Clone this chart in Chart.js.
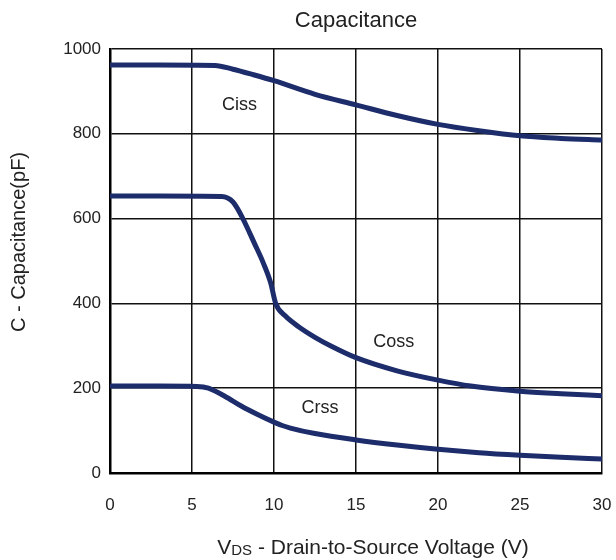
<!DOCTYPE html>
<html>
<head>
<meta charset="utf-8">
<script src="https://cdn.jsdelivr.net/npm/chart.js@4"></script>
<style>
  html, body { margin: 0; padding: 0; background: #fff; }
  #wrap { width: 616px; height: 560px; }
</style>
</head>
<body>
<div id="wrap"><canvas id="myChart" width="616" height="560"></canvas></div>
<script>
// values (V, pF)
const cissV = [0, 3, 6.4, 7.5, 8.75, 10, 12.5, 15, 17.5, 20, 22.5, 25, 27.5, 30];
const cissC = [962, 962, 961, 952, 939, 925, 893, 868, 843, 822, 807, 795, 789, 785];

const cossV = [0, 3, 6.8, 7.5, 8.1, 8.8, 9.35, 9.8, 10.1, 10.7, 11.5, 12.5, 13.5, 15, 17.5, 20, 22, 25, 27.5, 30];
const cossC = [653, 653, 652, 639, 600, 542, 495, 448, 400, 370, 345, 320, 299, 272, 241, 219, 205, 193, 187, 182];

const crssV = [0, 3, 5.3, 6, 7, 8, 9, 10, 10.5, 11, 12.5, 15, 17.5, 20, 22.5, 25, 27.5, 30];
const crssC = [205, 205, 204, 200, 181, 158, 138, 120, 112, 106, 93, 78, 66, 56, 48, 42, 37, 33];

const xTicks = [0, 5, 10, 15, 20, 25, 30];
const yTicks = [0, 200, 400, 600, 800, 1000];

// curve names and where they sit on the plot (V, pF)
const curveNames = ['Ciss', 'Coss', 'Crss'];
const nameAtV = [7.9, 17.3, 12.8];
const nameAtC = [868, 308, 153];

const FONT = '"Liberation Sans", Arial, Helvetica, sans-serif';
const NAVY = '#1d2c6b';

function pts(xs, ys) {
  return xs.map((x, i) => ({ x: x, y: ys[i] }));
}

function series(label, xs, ys) {
  return {
    label: label,
    data: pts(xs, ys),
    borderColor: NAVY,
    borderWidth: 5,
    pointRadius: 0,
    fill: false,
    cubicInterpolationMode: 'monotone',
    borderCapStyle: 'butt'
  };
}

// curve names, y title (sits a bit above centre in the original) and
// x title with the DS subscript
const textPlugin = {
  id: 'texts',
  afterDraw(chart) {
    const c = chart.ctx;
    const sx = chart.scales.x, sy = chart.scales.y;
    c.save();
    c.fillStyle = '#222';
    c.textAlign = 'center';
    c.textBaseline = 'middle';
    c.font = '18px ' + FONT;
    curveNames.forEach((n, i) => {
      c.fillText(n, sx.getPixelForValue(nameAtV[i]), sy.getPixelForValue(nameAtC[i]));
    });

    c.save();
    c.translate(19, 242);
    c.rotate(-Math.PI / 2);
    c.font = '20px ' + FONT;
    c.fillText('C - Capacitance(pF)', 0, 0);
    c.restore();

    // "VDS - Drain-to-Source Voltage (V)"
    const big = '21px ' + FONT, small = '15px ' + FONT;
    const rest = ' - Drain-to-Source Voltage (V)';
    c.font = big; const wV = c.measureText('V').width; const wR = c.measureText(rest).width;
    c.font = small; const wS = c.measureText('DS').width;
    let x = 373 - (wV + wS + wR) / 2;
    const y = 554;
    c.textAlign = 'left';
    c.textBaseline = 'alphabetic';
    c.font = big; c.fillText('V', x, y); x += wV;
    c.font = small; c.fillText('DS', x, y + 1); x += wS;
    c.font = big; c.fillText(rest, x, y);
    c.restore();
  }
};

const ctx = document.getElementById('myChart');

new Chart(ctx, {
  type: 'line',
  data: {
    datasets: [
      series('Ciss', cissV, cissC),
      series('Coss', cossV, cossC),
      series('Crss', crssV, crssC)
    ]
  },
  options: {
    responsive: false,
    animation: false,
    layout: { padding: { left: 0, right: 14, top: 0, bottom: 0 } },
    plugins: {
      legend: { display: false },
      tooltip: { enabled: false },
      title: {
        display: true,
        text: 'Capacitance',
        fullSize: false,
        color: '#222',
        font: { family: FONT, size: 22, weight: 'normal' },
        padding: { top: 8, bottom: 14.5 }
      }
    },
    scales: {
      x: {
        type: 'linear',
        min: 0,
        max: 30,
        afterBuildTicks: (s) => { s.ticks = xTicks.map(v => ({ value: v })); },
        afterFit: (s) => { s.height = 87; s.paddingLeft = 0; s.paddingRight = 0; },
        ticks: { color: '#222', padding: 22, font: { family: FONT, size: 17 } },
        grid: { color: '#111', lineWidth: 1.5, drawTicks: false },
        border: { color: '#000', width: 2.5 }
      },
      y: {
        min: 0,
        max: 1000,
        afterBuildTicks: (s) => { s.ticks = yTicks.map(v => ({ value: v })); },
        afterFit: (s) => { s.width = 110; s.paddingTop = 0; s.paddingBottom = 0; },
        ticks: {
          color: '#222',
          padding: 9,
          font: { family: FONT, size: 17 },
          callback: (v) => String(v)
        },
        grid: { color: '#111', lineWidth: 1.5, drawTicks: false },
        border: { color: '#000', width: 2.5 }
      }
    }
  },
  plugins: [textPlugin]
});
</script>
</body>
</html>
